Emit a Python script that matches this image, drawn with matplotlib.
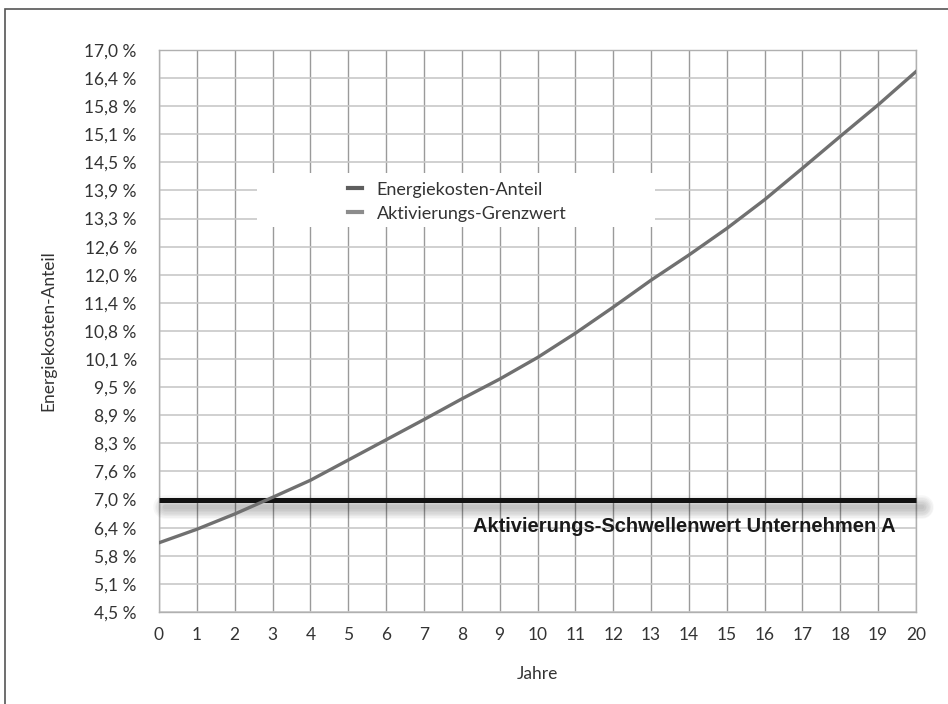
import numpy as np
import matplotlib.pyplot as plt
from matplotlib.lines import Line2D
from matplotlib.patches import Rectangle
import matplotlib.patheffects as pe

plt.rcParams['font.family'] = ['Lato', 'DejaVu Sans']

# data
years = list(range(21))
energy_share = [6.04, 6.34, 6.68, 7.05, 7.43, 7.88, 8.33, 8.78, 9.24, 9.68, 10.16,
                10.70, 11.28, 11.88, 12.44, 13.03, 13.67, 14.37, 15.08, 15.78, 16.52]
threshold = 7.0
threshold_label = 'Aktivierungs-Schwellenwert Unternehmen A'
legend_labels = ['Energiekosten-Anteil', 'Aktivierungs-Grenzwert']
y_tick_labels = ['4,5 %', '5,1 %', '5,8 %', '6,4 %', '7,0 %', '7,6 %', '8,3 %',
                 '8,9 %', '9,5 %', '10,1 %', '10,8 %', '11,4 %', '12,0 %', '12,6 %',
                 '13,3 %', '13,9 %', '14,5 %', '15,1 %', '15,8 %', '16,4 %', '17,0 %']
y_min, y_max = 4.5, 17.0

W, H = 948, 704
fig = plt.figure(figsize=(W / 100, H / 100), dpi=100)
ax = fig.add_axes([159 / W, 1 - 612 / H, 757 / W, 562 / H])

ax.set_xlim(years[0], years[-1])
ax.set_ylim(y_min, y_max)
ax.set_xticks(years)
ax.set_yticks(np.linspace(y_min, y_max, len(y_tick_labels)))
ax.set_yticklabels(y_tick_labels)
ax.set_axisbelow(True)
ax.grid(axis='x', color='#9a9a9a', lw=1.0)
ax.grid(axis='y', color='#c8c8c8', lw=1.2)
for s in ax.spines.values():
    s.set_color('#b0b0b0')
    s.set_linewidth(1.0)
ax.tick_params(axis='both', length=0, labelsize=12.5, labelcolor='#333333')
ax.tick_params(axis='y', pad=16)
ax.tick_params(axis='x', pad=11)

# white box behind the legend
ax.add_patch(Rectangle((0.129, 0.685), 0.526, 0.096, transform=ax.transAxes,
                       facecolor='white', edgecolor='none', zorder=1))

# threshold line with a soft shadow
shadow = [pe.SimpleLineShadow(offset=(4, -5), shadow_color='black', alpha=0.03,
                              linewidth=w, capstyle='round') for w in range(3, 19, 2)]
ax.plot([years[0], years[-1]], [threshold, threshold], color='#111111', lw=3.6,
        solid_capstyle='butt', zorder=3, clip_on=False,
        path_effects=shadow + [pe.Normal()])

curve, = ax.plot(years, energy_share, color='#707070', lw=2.4, zorder=4)

ax.text(19.45, 6.40, threshold_label, ha='right', va='center', fontsize=14.5,
        fontweight='bold', family='Liberation Sans', color='#1a1a1a', zorder=5)

handles = [Line2D([], [], color='#5e5e5e', lw=3), Line2D([], [], color='#8c8c8c', lw=3)]
ax.legend(handles, legend_labels, loc='center', bbox_to_anchor=(0.394, 0.730),
          frameon=False, fontsize=13, handlelength=0.8, handletextpad=0.8,
          labelspacing=0.45, labelcolor='#333333')

ax.set_xlabel('Jahre', fontsize=12.5, color='#333333')
ax.xaxis.set_label_coords(0.5, -0.096)
ax.set_ylabel('Energiekosten-Anteil', fontsize=12.5, color='#333333')
ax.yaxis.set_label_coords(-0.135, 0.5)

# outer frame
fig.add_artist(Rectangle((5 / W, -0.1), 1.2, 1 - 9 / H + 0.1, transform=fig.transFigure,
                         fill=False, edgecolor='#555555', lw=1.2))

fig.savefig('out.png', dpi=100)
